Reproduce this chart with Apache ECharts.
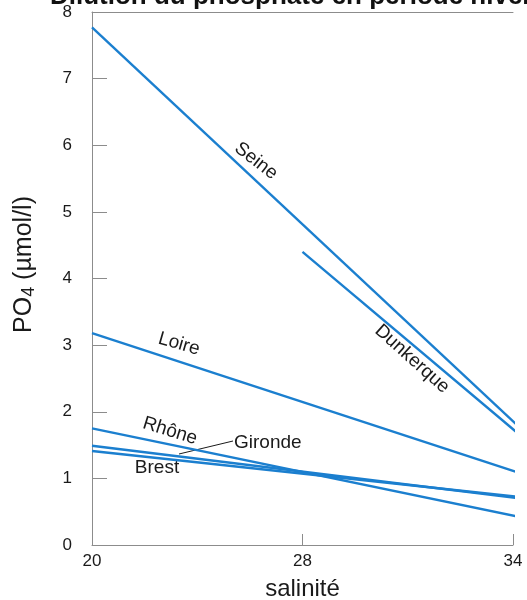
<!DOCTYPE html>
<html>
<head>
<meta charset="utf-8">
<script src="https://cdn.jsdelivr.net/npm/echarts@6/dist/echarts.min.js"></script>
<style>
  html, body { margin: 0; padding: 0; background: #fff; }
  #chart { width: 527px; height: 600px; }
</style>
</head>
<body>
<div id="chart"></div>
<script>
// salinité ticks, the axis in the figure is drawn piecewise (20..28 and 28..34 take the same width)
const xTickValues = [20, 28, 34]
const xTickLabels = ['20', '28', '34']

// PO4 (µmol/l) at each end of the dilution lines, [salinité, PO4]
const seine = [[20, 7.77], [34.2, 1.76]]
const dunkerque = [[28, 4.4], [34.2, 1.65]]
const loire = [[20, 3.18], [34.2, 1.08]]
const rhone = [[20, 1.75], [34.2, 0.42]]
const gironde = [[20, 1.49], [34.2, 0.70]]
const brest = [[20, 1.41], [34.2, 0.72]]

const FONT = '"Liberation Sans", Arial, sans-serif'
const BLUE = '#1b7fcf'

// piecewise salinity scale used by the original drawing
function pos (s) {
    return s <= xTickValues[1]
        ? (s - xTickValues[0]) / (xTickValues[1] - xTickValues[0])
        : 1 + (s - xTickValues[1]) / (xTickValues[2] - xTickValues[1])
}
function toAxis (pts) {
    return pts.map(p => [pos(p[0]), p[1]])
}

function lineSeries (name, pts) {
    return {
        name: name,
        type: 'line',
        data: toAxis(pts),
        symbol: 'none',
        clip: false,
        silent: true,
        lineStyle: { color: BLUE, width: 2.4 }
    }
}

function note (text, x, y, rot, align) {
    return {
        type: 'text',
        x: x,
        y: y,
        rotation: rot || 0,
        style: {
            text: text,
            fontSize: 19,
            fontFamily: FONT,
            fill: '#1a1a1a',
            align: align || 'center',
            verticalAlign: 'middle'
        }
    }
}

const myChart = echarts.init(document.getElementById('chart'))
myChart.setOption({
    animation: false,
    backgroundColor: '#fff',
    grid: { left: 92, right: 14, top: 12, bottom: 55, outerBoundsMode: 'none' },
    xAxis: [{
        type: 'value',
        min: 0,
        max: 2,
        interval: 1,
        name: 'salinité',
        nameLocation: 'middle',
        nameGap: 32,
        nameTextStyle: { fontSize: 24, fontFamily: FONT, color: '#1a1a1a' },
        axisLine: { show: true, lineStyle: { color: '#8c8c8c', width: 1 } },
        axisTick: { show: true, inside: true, length: 11, lineStyle: { color: '#8c8c8c' } },
        axisLabel: {
            margin: 8,
            fontSize: 17,
            fontFamily: FONT,
            color: '#1a1a1a',
            formatter: v => xTickLabels[Math.round(v)]
        },
        splitLine: { show: false }
    }, {
        // top frame line
        type: 'value',
        position: 'top',
        min: 0,
        max: 2,
        axisLine: { show: true, lineStyle: { color: '#8c8c8c', width: 1 } },
        axisTick: { show: false },
        axisLabel: { show: false },
        splitLine: { show: false }
    }],
    yAxis: {
        type: 'value',
        min: 0,
        max: 8,
        interval: 1,
        name: '{a|PO}{b|4}{a| (µmol/l)}',
        nameLocation: 'middle',
        nameGap: 54,
        nameRotate: 90,
        nameTextStyle: {
            padding: [0, 0, 0, 28],
            rich: {
                a: { fontSize: 25, fontFamily: FONT, color: '#1a1a1a' },
                b: { fontSize: 18, fontFamily: FONT, color: '#1a1a1a', padding: [10, 0, 0, 0] }
            }
        },
        axisLine: { show: true, lineStyle: { color: '#8c8c8c', width: 1 } },
        axisTick: { show: true, inside: true, length: 15, lineStyle: { color: '#8c8c8c' } },
        axisLabel: { margin: 20, fontSize: 17, fontFamily: FONT, color: '#1a1a1a' },
        splitLine: { show: false }
    },
    series: [
        lineSeries('Seine', seine),
        lineSeries('Dunkerque', dunkerque),
        lineSeries('Loire', loire),
        lineSeries('Rhône', rhone),
        lineSeries('Gironde', gironde),
        lineSeries('Brest', brest)
    ],
    graphic: [
        {
            type: 'text',
            x: 50,
            y: -16,
            style: {
                text: 'Dilution du phosphate en période hivernale',
                fontSize: 26,
                fontWeight: 'bold',
                fontFamily: FONT,
                fill: '#111'
            }
        },
        note('Seine', 256, 161, -0.66),
        note('Dunkerque', 412, 359, -0.73),
        note('Loire', 179, 344, -0.28),
        note('Rhône', 170, 431, -0.3),
        note('Gironde', 234, 443, 0, 'left'),
        note('Brest', 157, 468, 0),
        {
            type: 'line',
            shape: { x1: 179, y1: 454, x2: 233, y2: 441 },
            style: { stroke: '#1a1a1a', lineWidth: 1 }
        }
    ]
})
</script>
</body>
</html>
